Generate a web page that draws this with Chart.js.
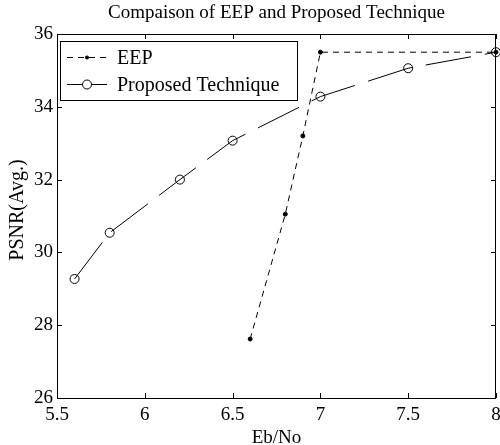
<!DOCTYPE html>
<html lang="en">
<head>
  <meta charset="UTF-8">
  <title>Compaison of EEP and Proposed Technique</title>
  <script src="https://cdn.jsdelivr.net/npm/chart.js"></script>
  <style>
    html, body { margin: 0; padding: 0; background: #fff; }
    #wrap { width: 500px; height: 445px; position: relative; }
  </style>
</head>
<body>
  <div id="wrap"><canvas id="chart"></canvas></div>
  <script>
    // data
    const eepX = [6.6, 6.8, 6.9, 7, 8];
    const eepY = [27.62, 31.05, 33.2, 35.5, 35.5];
    const propX = [5.6, 5.8, 6.2, 6.5, 7, 7.5, 8];
    const propY = [29.27, 30.54, 32.0, 33.07, 34.28, 35.06, 35.5];
    const xTicks = [5.5, 6, 6.5, 7, 7.5, 8];
    const yTicks = [26, 28, 30, 32, 34, 36];
    const titleText = 'Compaison of EEP and Proposed Technique';
    const yTitle = 'PSNR(Avg.)';

    const FONT = '"Liberation Serif", "Times New Roman", serif';

    // title over the plot box, y label, inward ticks, frame and the boxed legend
    const framePlugin = {
      id: 'frame',
      afterDraw(chart) {
        const ctx = chart.ctx;
        const a = chart.chartArea;
        const xs = chart.scales.x, ys = chart.scales.y;
        ctx.save();
        ctx.fillStyle = '#000';
        ctx.font = '19px ' + FONT;
        ctx.textAlign = 'center';
        ctx.textBaseline = 'middle';
        ctx.fillText(titleText, (a.left + a.right) / 2, 13);

        ctx.save();
        ctx.translate(18, 210);
        ctx.rotate(-Math.PI / 2);
        ctx.font = '20px ' + FONT;
        ctx.fillText(yTitle, 0, 0);
        ctx.restore();
        ctx.textAlign = 'left';

        ctx.strokeStyle = '#000';
        ctx.lineWidth = 1;
        ctx.beginPath();
        xTicks.forEach(v => {
          const px = Math.round(xs.getPixelForValue(v)) + 0.5;
          ctx.moveTo(px, a.bottom); ctx.lineTo(px, a.bottom - 5);
          ctx.moveTo(px, a.top); ctx.lineTo(px, a.top + 5);
        });
        yTicks.forEach(v => {
          const py = Math.round(ys.getPixelForValue(v)) + 0.5;
          ctx.moveTo(a.left, py); ctx.lineTo(a.left + 5, py);
          ctx.moveTo(a.right, py); ctx.lineTo(a.right - 5, py);
        });
        ctx.stroke();
        ctx.strokeRect(Math.round(a.left) + 0.5, Math.round(a.top) + 0.5,
          Math.round(a.right - a.left) - 1, Math.round(a.bottom - a.top));

        // legend
        const lx = a.left + 3, ly = a.top + 7;
        ctx.fillStyle = '#fff';
        ctx.fillRect(lx, ly, 237, 59);
        ctx.strokeRect(lx + 0.5, ly + 0.5, 237, 59);
        const sets = chart.data.datasets;
        ctx.font = '20px ' + FONT;
        sets.forEach((ds, i) => {
          const yy = ly + 16 + i * 27 + 0.5;
          ctx.beginPath();
          ctx.setLineDash(i === 0 ? [6, 5] : []);
          ctx.strokeStyle = '#000';
          ctx.moveTo(lx + 7, yy); ctx.lineTo(lx + 47, yy);
          ctx.stroke();
          ctx.setLineDash([]);
          ctx.beginPath();
          if (i === 0) {
            ctx.arc(lx + 27, yy, 2, 0, Math.PI * 2);
            ctx.fillStyle = '#000'; ctx.fill();
          } else {
            ctx.arc(lx + 27, yy, 4.5, 0, Math.PI * 2);
            ctx.fillStyle = '#fff'; ctx.fill(); ctx.stroke();
          }
          ctx.fillStyle = '#000';
          ctx.fillText(ds.label, lx + 57, yy + 1);
        });
        ctx.restore();
      }
    };

    new Chart(document.getElementById('chart'), {
      type: 'line',
      data: {
        datasets: [{
          label: 'EEP',
          data: eepX.map((x, i) => ({ x: x, y: eepY[i] })),
          borderColor: '#000',
          borderWidth: 1,
          borderDash: [6, 5],
          pointRadius: 2,
          pointBackgroundColor: '#000',
          pointBorderColor: '#000',
          tension: 0,
          clip: false
        }, {
          label: 'Proposed Technique',
          data: propX.map((x, i) => ({ x: x, y: propY[i] })),
          borderColor: '#000',
          borderWidth: 1,
          borderDash: [46, 14],
          pointRadius: 4.5,
          pointBorderWidth: 1,
          pointBackgroundColor: 'rgba(0,0,0,0)',
          pointBorderColor: '#000',
          tension: 0,
          clip: false
        }]
      },
      options: {
        responsive: true,
        maintainAspectRatio: false,
        animation: false,
        layout: { autoPadding: false, padding: { left: 0, right: 4, top: 34, bottom: 0 } },
        plugins: {
          legend: { display: false },
          tooltip: { enabled: false },
          title: { display: false }
        },
        scales: {
          x: {
            type: 'linear',
            min: 5.5, max: 8,
            afterFit: s => { s.height = 47; s.paddingLeft = 0; s.paddingRight = 0; },
            afterBuildTicks: s => { s.ticks = xTicks.map(v => ({ value: v })); },
            grid: { display: false, drawTicks: false },
            border: { display: false },
            ticks: { color: '#000', padding: 6, maxRotation: 0, callback: v => String(v), font: { family: FONT, size: 19 } },
            title: { display: true, text: 'Eb/No', color: '#000', padding: { top: 0, bottom: -4 }, font: { family: FONT, size: 19 } }
          },
          y: {
            type: 'linear',
            min: 26, max: 36,
            afterFit: s => { s.width = 57; },
            afterBuildTicks: s => { s.ticks = yTicks.map(v => ({ value: v })); },
            grid: { display: false, drawTicks: false },
            border: { display: false },
            ticks: { color: '#000', padding: 4, callback: v => String(v), font: { family: FONT, size: 19 } },
            title: { display: false }
          }
        }
      },
      plugins: [framePlugin]
    });
  </script>
</body>
</html>
